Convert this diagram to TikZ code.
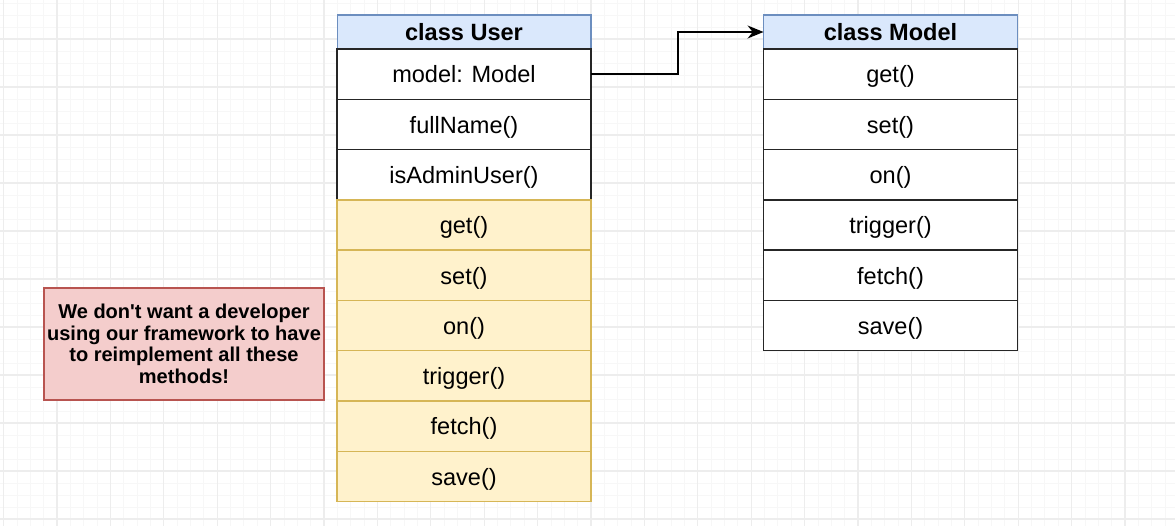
\documentclass[tikz,border=0pt]{standalone}
\usepackage{fontspec}
\setmainfont{Liberation Sans}[Ligatures=TeXOff]
\usetikzlibrary{positioning,arrows.meta}
\definecolor{headblue}{HTML}{DAE8FC}
\definecolor{headline}{HTML}{6C8EBF}
\definecolor{inhfill}{HTML}{FFF2CC}
\definecolor{inhline}{HTML}{D6B656}
\definecolor{notefill}{HTML}{F4CDCC}
\definecolor{noteline}{HTML}{B85450}
\definecolor{gridminor}{HTML}{F7F7F7}
\definecolor{gridmajor}{HTML}{EDEDED}

\begin{document}
\begin{tikzpicture}[x=0.02cm, y=-0.02cm,
  head/.style={draw=headline, fill=headblue, minimum width=5.08cm, minimum height=0.68cm,
               font=\fontsize{13.4}{16}\selectfont\bfseries, inner sep=0pt, outer sep=0pt, line width=0.6pt,
               text height=10pt, text depth=0pt},
  member/.style={draw=black!85, fill=white, minimum width=5.08cm, minimum height=1.006cm,
                 font=\fontsize{13.4}{16}\selectfont, inner sep=0pt, outer sep=0pt, line width=0.8pt,
                 text height=10pt, text depth=0pt},
  inherited/.style={member, draw=inhline, fill=inhfill},
  note/.style={draw=noteline, fill=notefill, minimum width=5.6cm, minimum height=2.24cm,
               align=center, inner sep=0pt, line width=0.8pt,
               font=\fontsize{11.4}{12.3}\selectfont\bfseries},
  arr/.style={-{Stealth[length=3.2mm, width=2.6mm]}, line width=0.8pt}
]
\useasboundingbox (0,0) rectangle (1175,526);
\fill[white] (0,0) rectangle (1175,526);
% grid
\foreach \i in {-4,...,84}
  \draw[gridminor, line width=0.5pt] ({57+13.35*\i},0) -- ({57+13.35*\i},526);
\foreach \j in {-3,...,41}
  \draw[gridminor, line width=0.5pt] (0,{39+12*\j}) -- (1175,{39+12*\j});
\foreach \i in {-1,...,21}
  \draw[gridmajor, line width=0.6pt] ({57+53.4*\i},0) -- ({57+53.4*\i},526);
\foreach \j in {-1,...,10}
  \draw[gridmajor, line width=0.6pt] (0,{39+48*\j}) -- (1175,{39+48*\j});

% class User
\node[head] (uhead) at (464,32) {class User};
\node[member, below=0pt of uhead] (umodel) {model: Model};
\node[member, below=0pt of umodel] (ufull) {fullName()};
\node[member, below=0pt of ufull] (uadmin) {isAdminUser()};
\node[inherited, below=0pt of uadmin] (uget) {get()};
\node[inherited, below=0pt of uget] (uset) {set()};
\node[inherited, below=0pt of uset] (uon) {on()};
\node[inherited, below=0pt of uon] (utrigger) {trigger()};
\node[inherited, below=0pt of utrigger] (ufetch) {fetch()};
\node[inherited, below=0pt of ufetch] (usave) {save()};

% class Model
\node[head] (mhead) at (890.5,32) {class Model};
\node[member, below=0pt of mhead] (mget) {get()};
\node[member, below=0pt of mget] (mset) {set()};
\node[member, below=0pt of mset] (mon) {on()};
\node[member, below=0pt of mon] (mtrigger) {trigger()};
\node[member, below=0pt of mtrigger] (mfetch) {fetch()};
\node[member, below=0pt of mfetch] (msave) {save()};

% note
\node[note] (remark) at (184,344)
  {We don't want a developer\\using our framework to have\\to reimplement all these\\methods!};

\draw[arr] (umodel.east) -- ++(87,0) |- (mhead.west);
\end{tikzpicture}
\end{document}
